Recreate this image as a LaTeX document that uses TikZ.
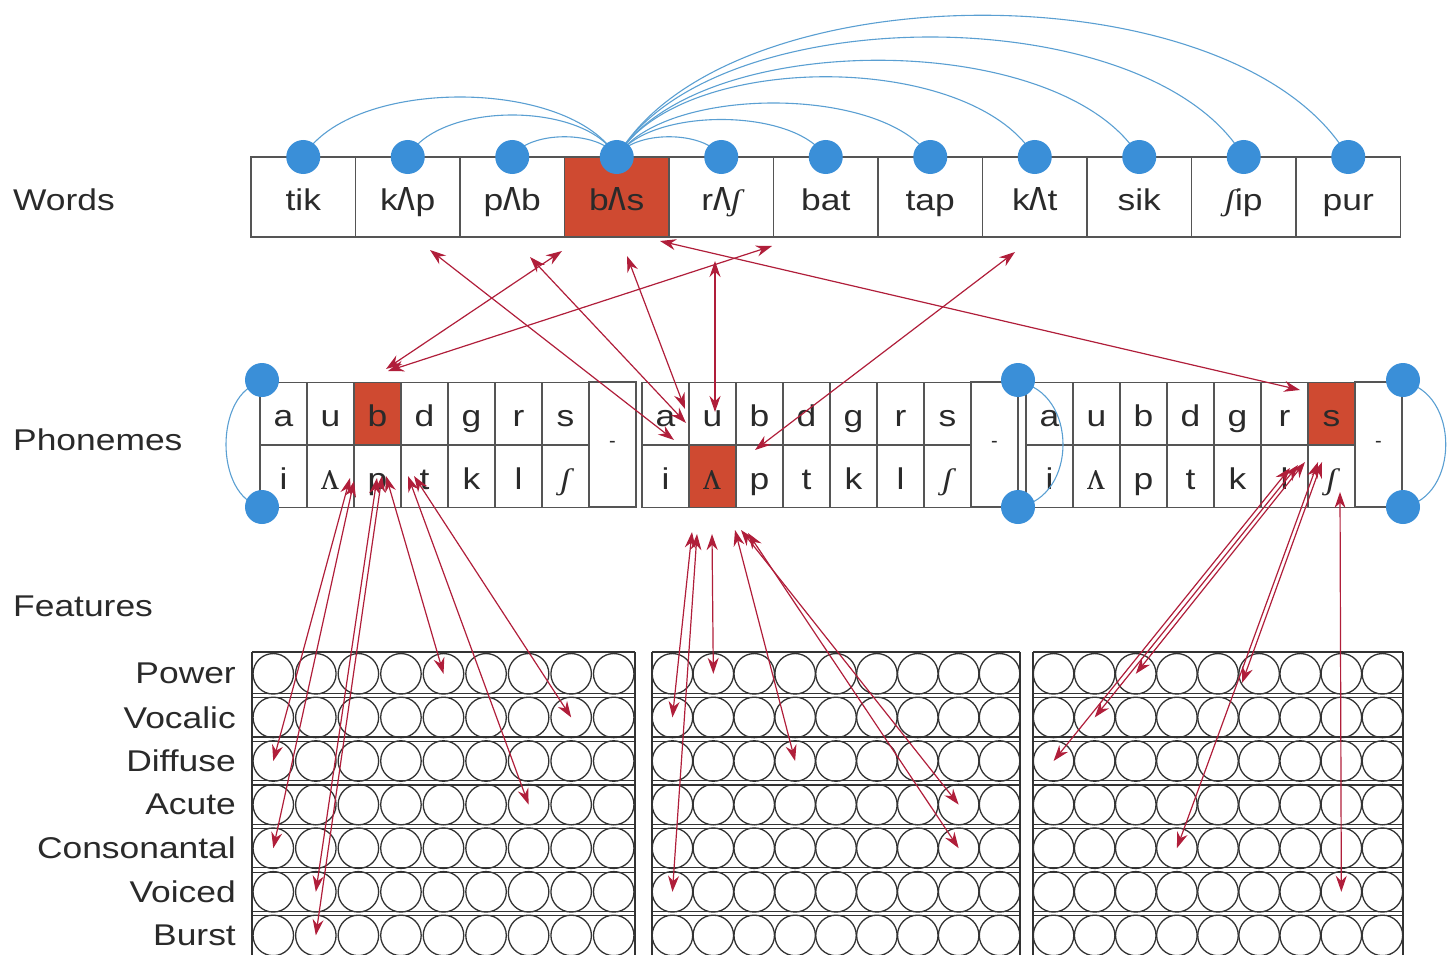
\documentclass[tikz,border=0pt]{standalone}
\usepackage{fontspec}
\setmainfont{Liberation Sans}
\newfontfamily\ipaserif{Liberation Serif}
\usetikzlibrary{arrows.meta,calc}
\definecolor{cellred}{HTML}{CF4A31}
\definecolor{dotblue}{HTML}{3A8FD8}
\definecolor{arcblue}{HTML}{5A9FD2}
\definecolor{arrred}{HTML}{B01E3A}
\definecolor{linegray}{HTML}{555555}
\definecolor{txtgray}{HTML}{2A2A2A}
\newcommand{\sx}[1]{\scalebox{1.18}[1]{#1}}
\newcommand{\esh}{{\ipaserif\itshape ʃ}}
\newcommand{\wv}{\scalebox{1}[1.45]{ʌ}}
\newcommand{\pv}{{\ipaserif\scalebox{1}[1.35]{ʌ}}}
\begin{document}
\begin{tikzpicture}[x=1pt,y=-1pt,
  lbl/.style={inner sep=0pt, text=txtgray, font=\fontsize{30}{30}\selectfont},
  wcell/.style={draw=linegray, line width=1.3pt, minimum width=104.5pt, minimum height=80pt, inner sep=0pt, text height=26pt, text depth=0pt, font=\fontsize{30}{30}\selectfont, text=txtgray},
  pcell/.style={draw=linegray, line width=1.2pt, minimum width=47pt, minimum height=62.5pt, inner sep=0pt, text height=26pt, text depth=0pt, font=\fontsize{30}{30}\selectfont, text=txtgray},
  dcell/.style={draw=linegray, line width=1.2pt, minimum width=47pt, minimum height=125pt, inner sep=0pt, font=\fontsize{20}{20}\selectfont, text=txtgray},
  hot/.style={fill=cellred},
  bdot/.style={circle, fill=dotblue, minimum size=34pt, inner sep=0pt},
  barc/.style={draw=arcblue, line width=1.1pt},
  rarr/.style={draw=arrred, line width=1.2pt, {Stealth[length=16pt,width=11pt]}-{Stealth[length=16pt,width=11pt]}},
  fcirc/.style={circle, draw=black!80, line width=1.3pt, minimum size=40.5pt, inner sep=0pt},
  gridline/.style={draw=black!80, line width=1.2pt},
]
\useasboundingbox (0,0) rectangle (1451,955);

% ---------- side labels ----------
\node[lbl, anchor=west] (lw) at (13,200) {\sx{Words}};
\node[lbl, anchor=west] (lp) at (13,440) {\sx{Phonemes}};
\node[lbl, anchor=west] (lf) at (13,606) {\sx{Features}};

% ---------- word row ----------
\foreach \i/\w in {1/tik, 2/k\wv p, 3/p\wv b, 5/r\wv\esh, 6/bat, 7/tap, 8/k\wv t, 9/sik, 10/\esh ip, 11/pur} {
  \node[wcell] (w\i) at ({251+104.5*(\i-0.5)},197) {\sx{\w}};
}
\node[wcell, hot] (w4) at ({251+104.5*3.5},197) {\sx{b\wv s}};

% blue arcs between word units
\foreach \i in {1,...,11} {
  \coordinate (d\i) at ({251+104.5*(\i-0.5)},157);
}
\draw[barc] (d4) .. controls +(-47,-80) and +(47,-80) .. (d1);
\draw[barc] (d4) .. controls +(-31,-56) and +(31,-56) .. (d2);
\draw[barc] (d4) .. controls +(-16,-27) and +(16,-27) .. (d3);
\draw[barc] (d4) .. controls +(16,-27) and +(-16,-27) .. (d5);
\draw[barc] (d4) .. controls +(31,-50) and +(-31,-50) .. (d6);
\draw[barc] (d4) .. controls +(47,-72) and +(-47,-72) .. (d7);
\draw[barc] (d4) .. controls +(63,-107) and +(-63,-107) .. (d8);
\draw[barc] (d4) .. controls +(78,-129) and +(-78,-129) .. (d9);
\draw[barc] (d4) .. controls +(94,-160) and +(-94,-160) .. (d10);
\draw[barc] (d4) .. controls +(110,-189) and +(-110,-189) .. (d11);
\foreach \i in {1,...,11} {
  \node[bdot] (wd\i) at (d\i) {};
}

% ---------- phoneme banks ----------
\foreach \b/\L in {1/260, 2/642, 3/1026} {
  \foreach \j/\t in {1/a, 2/u, 3/b, 4/d, 5/g, 6/r, 7/s} {
    \node[pcell] (p\b-t\j) at ({\L+47*(\j-0.5)},413.75) {\sx{\t}};
  }
  \foreach \j/\t in {1/i, 2/\pv, 3/p, 4/t, 5/k, 6/l, 7/\esh} {
    \node[pcell] (p\b-b\j) at ({\L+47*(\j-0.5)},476.25) {\sx{\t}};
  }
  \node[dcell] (p\b-sil) at ({\L+47*7.5},444.5) {-};
}
% highlighted phonemes
\node[pcell, hot] (hb) at ({260+47*2.5},413.75) {\sx{b}};
\node[pcell, hot] (hu) at ({642+47*1.5},476.25) {\sx{\pv}};
\node[pcell, hot] (hs) at ({1026+47*6.5},413.75) {\sx{s}};

% blue connections between phoneme banks
\draw[barc] (262,382) .. controls (214,392) and (214,497) .. (262,507);
\draw[barc] (1018,382) .. controls (1078,392) and (1078,497) .. (1018,507);
\draw[barc] (1403,382) .. controls (1460,392) and (1460,497) .. (1403,507);
\node[bdot] (pd1) at (262,380) {};
\node[bdot] (pd2) at (262,507) {};
\node[bdot] (pd3) at (1018,380) {};
\node[bdot] (pd4) at (1018,507) {};
\node[bdot] (pd5) at (1403,380) {};
\node[bdot] (pd6) at (1403,507) {};

% ---------- feature grids ----------
\foreach \g/\L/\W in {1/252/383, 2/652/368, 3/1033/370} {
  \foreach \r in {1,...,7} {
    \foreach \c in {1,...,9} {
      \node[fcirc] (f\g-\r-\c) at ({\L+(\c-0.5)*\W/9},{652+(\r-0.5)*43.6}) {};
    }
  }
  \draw[gridline] (\L,652) -- (\L,962);
  \draw[gridline] ({\L+\W},652) -- ({\L+\W},962);
  \draw[gridline] (\L,652) -- ({\L+\W},652);
  \foreach \r in {1,...,6} {
    \draw[gridline] (\L,{652+\r*43.6-2.2}) -- ++(\W,0);
    \draw[gridline] (\L,{652+\r*43.6+2.2}) -- ++(\W,0);
  }
}
\foreach \r/\t in {1/Power, 2/Vocalic, 3/Diffuse, 4/Acute, 5/Consonantal, 6/Voiced, 7/Burst} {
  \node[lbl, anchor=east] (fl\r) at (236,{652+(\r-0.5)*43.6}) {\sx{\t}};
}

% ---------- word <-> phoneme arrows ----------
\coordinate (a1w) at (430,250);  \coordinate (a1p) at (674,440);
\coordinate (a2w) at (530,257);  \coordinate (a2p) at (686,423);
\coordinate (a3w) at (562,251);  \coordinate (a3p) at (386,369);
\coordinate (a4w) at (627,256);  \coordinate (a4p) at (685,409);
\coordinate (a5w) at (715,261);  \coordinate (a5p) at (715,412);
\coordinate (a6w) at (660,241);  \coordinate (a6p) at (1300,390);
\coordinate (a7w) at (772,246);  \coordinate (a7p) at (388,371);
\coordinate (a8w) at (1015,252); \coordinate (a8p) at (755,450);
\foreach \k in {1,...,8} { \draw[rarr] (a\k w) -- (a\k p); }

% ---------- phoneme <-> feature arrows ----------
\coordinate (b1) at (350,478);
\coordinate (b2) at (354,481);
\coordinate (b3) at (377,478);
\coordinate (b4) at (382,476);
\coordinate (b5) at (386,476);
\coordinate (b6) at (408,476);
\coordinate (b7) at (414,476);
\draw[rarr] (b1) -- (f1-3-1.center);
\draw[rarr] (b2) -- (f1-5-1.center);
\draw[rarr] (b3) -- (f1-6-2.center);
\draw[rarr] (b4) -- (f1-7-2.center);
\draw[rarr] (b5) -- (f1-1-5.center);
\draw[rarr] (b6) -- (f1-4-7.center);
\draw[rarr] (b7) -- (f1-2-8.center);

\coordinate (c1) at (692,532);
\coordinate (c2) at (697,534);
\coordinate (c3) at (712,534);
\coordinate (c4) at (735,530);
\coordinate (c5) at (741,530);
\coordinate (c6) at (748,533);
\draw[rarr] (c1) -- (f2-2-1.center);
\draw[rarr] (c2) -- (f2-6-1.center);
\draw[rarr] (c3) -- (f2-1-2.center);
\draw[rarr] (c4) -- (f2-3-4.center);
\draw[rarr] (c5) -- (f2-4-8.center);
\draw[rarr] (c6) -- (f2-5-8.center);

\coordinate (e1) at (1290,468);
\coordinate (e2) at (1298,465);
\coordinate (e3) at (1305,462);
\coordinate (e4) at (1318,462);
\coordinate (e5) at (1322,462);
\coordinate (e6) at (1340,492);
\coordinate (e5f) at (1242,683);
\draw[rarr] (e1) -- (f3-3-1.center);
\draw[rarr] (e2) -- (f3-2-2.center);
\draw[rarr] (e3) -- (f3-1-3.center);
\draw[rarr] (e4) -- (f3-5-4.center);
\draw[rarr] (e5) -- (e5f);
\draw[rarr] (e6) -- (f3-6-8.center);
\end{tikzpicture}
\end{document}
